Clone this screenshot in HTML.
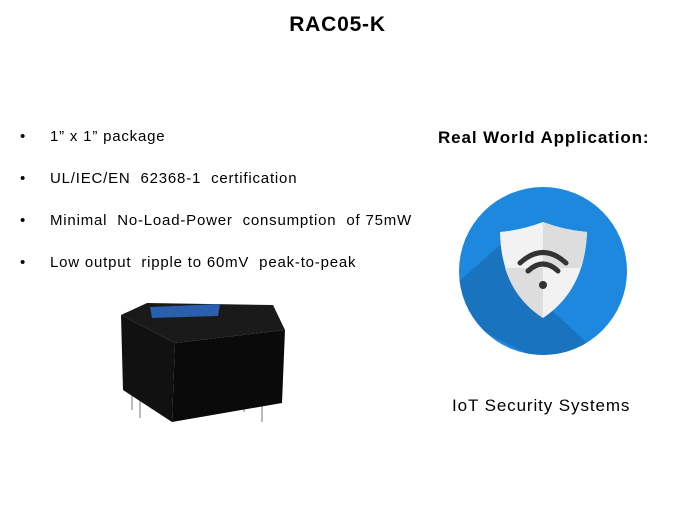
<!DOCTYPE html>
<html><head><meta charset="utf-8"><style>
body{margin:0;width:675px;height:506px;background:#fff;position:relative;font-family:"Liberation Sans",sans-serif;overflow:hidden}
.t{position:absolute;white-space:nowrap;color:#000}
.b{font-size:15px;letter-spacing:0.8px}
</style></head><body>
<div class="t" style="left:0;width:675px;text-align:center;top:13px;font-size:21px;font-weight:bold;letter-spacing:0.8px">RAC05-K</div>
<div class="t b" style="left:20px;top:128px">•</div>
<div class="t b" style="left:50px;top:128px">1” x 1” package</div>
<div class="t b" style="left:20px;top:170px">•</div>
<div class="t b" style="left:50px;top:170px">UL/IEC/EN&nbsp; 62368-1&nbsp; certification</div>
<div class="t b" style="left:20px;top:212px">•</div>
<div class="t b" style="left:50px;top:212px">Minimal&nbsp; No-Load-Power&nbsp; consumption&nbsp; of 75mW</div>
<div class="t b" style="left:20px;top:254px">•</div>
<div class="t b" style="left:50px;top:254px">Low output&nbsp; ripple to 60mV&nbsp; peak-to-peak</div>
<div class="t" style="left:438px;top:128px;font-size:17px;font-weight:bold;letter-spacing:0.9px">Real World Application:</div>
<div class="t" style="left:452px;top:396px;font-size:17px;letter-spacing:0.9px">IoT Security Systems</div>
<svg width="675" height="506" style="position:absolute;left:0;top:0">
<defs><clipPath id="c"><circle cx="543" cy="271" r="84"/></clipPath></defs>
<g stroke="#bbb" stroke-width="2">
<line x1="132" y1="390" x2="132" y2="410"/><line x1="140" y1="395" x2="140" y2="418"/>
<line x1="262" y1="400" x2="262" y2="422"/><line x1="244" y1="398" x2="244" y2="412"/>
</g>
<polygon points="121,315 147,303 273,305 285,330 175,343" fill="#1a1a1a"/>
<polygon points="121,315 175,343 172,422 123,390" fill="#111"/>
<polygon points="175,343 285,330 282,403 172,422" fill="#0a0a0a"/>
<polygon points="150,307 220,304 218,316 152,318" fill="#2a5fae"/>
<circle cx="543" cy="271" r="84" fill="#1e88df"/>
<polygon clip-path="url(#c)" points="500,245 530,290 600,355 540,360 470,325 455,285" fill="#1565a8" opacity="0.6"/>
<path d="M500,232 Q522,230 543,222 Q564,230 587,232 Q585,290 543,318 Q501,290 500,232Z" fill="#f2f2f2"/>
<path d="M543,222 Q564,230 587,232 Q586,255 580,268 L543,268Z" fill="#ddd"/>
<path d="M543,268 L505,268 Q515,300 543,318Z" fill="#ddd"/>
<g fill="none" stroke="#333" stroke-width="5" stroke-linecap="round">
<path d="M520,263 Q543,242 566,263"/><path d="M528,271 Q543,257 558,271"/>
</g>
<circle cx="543" cy="285" r="4" fill="#333"/>
</svg>
</body></html>
